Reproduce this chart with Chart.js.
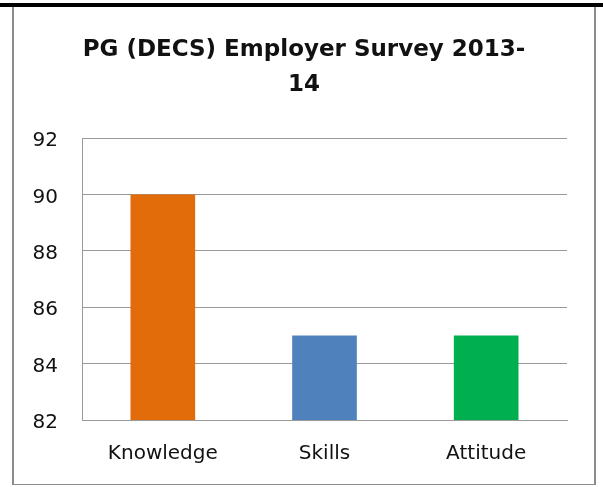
<!DOCTYPE html>
<html>
<head>
<meta charset="utf-8">
<script src="https://cdn.jsdelivr.net/npm/chart.js@4"></script>
<style>
  body { margin: 0; width: 603px; height: 487px; background: #fff; position: relative; overflow: hidden; }
  #topline { position: absolute; left: 0; top: 3px; width: 603px; height: 4px; background: #000; z-index: 2; }
  #box { position: absolute; left: 12px; top: 5px; width: 580px; height: 477px; border: 2px solid #8c8c8c; border-bottom-width: 1px; }
  #box canvas { display: block; }
</style>
</head>
<body>
<div id="topline"></div>
<div id="box"><canvas id="survey-Chart" width="580" height="477"></canvas></div>
<script>
const categories = ["Knowledge", "Skills", "Attitude"];
const scores = [90, 85, 85];
const barColors = ["#E36C0A", "#4F81BD", "#00B050"];
const titleLines = ["PG (DECS) Employer Survey 2013-", "14"];
const yMin = 82;
const yMax = 92;
const yStep = 2;

document.addEventListener("DOMContentLoaded", () => {
  const ctx = document.getElementById("survey-Chart");
  if (ctx) {
    new Chart(ctx, {
      type: "bar",
      data: {
        labels: categories,
        datasets: [
          {
            data: scores,
            backgroundColor: barColors,
            borderWidth: 0,
            barPercentage: 0.4,
            categoryPercentage: 1,
          },
        ],
      },
      options: {
        responsive: false,
        animation: false,
        plugins: {
          legend: { display: false },
          tooltip: { enabled: false },
          title: {
            display: true,
            text: titleLines,
            color: "#111",
            font: { family: "DejaVu Sans", size: 23, weight: "bold", lineHeight: "35px" },
            padding: { top: 26, bottom: 35 },
          },
        },
        scales: {
          x: {
            grid: { display: false, drawTicks: false },
            border: { display: true, color: "#9a9a9a", width: 1 },
            ticks: { color: "#111", padding: 22, font: { family: "DejaVu Sans", size: 20 } },
            afterFit: (scale) => { scale.height = 64; },
          },
          y: {
            min: yMin,
            max: yMax,
            grid: { color: "#9a9a9a", drawTicks: false },
            border: { display: true, color: "#9a9a9a", width: 1 },
            ticks: { stepSize: yStep, color: "#111", padding: 24, labelOffset: 3, font: { family: "DejaVu Sans", size: 20 } },
            afterFit: (scale) => { scale.width = 68; },
          },
          // empty right axis, only keeps space at the right of the plot
          yRight: {
            position: "right",
            grid: { display: false, drawTicks: false },
            border: { display: false },
            ticks: { display: false },
            afterFit: (scale) => { scale.width = 27; },
          },
        },
      },
    });
  } else {
    console.error("Canvas element not found");
  }
});
</script>
</body>
</html>
